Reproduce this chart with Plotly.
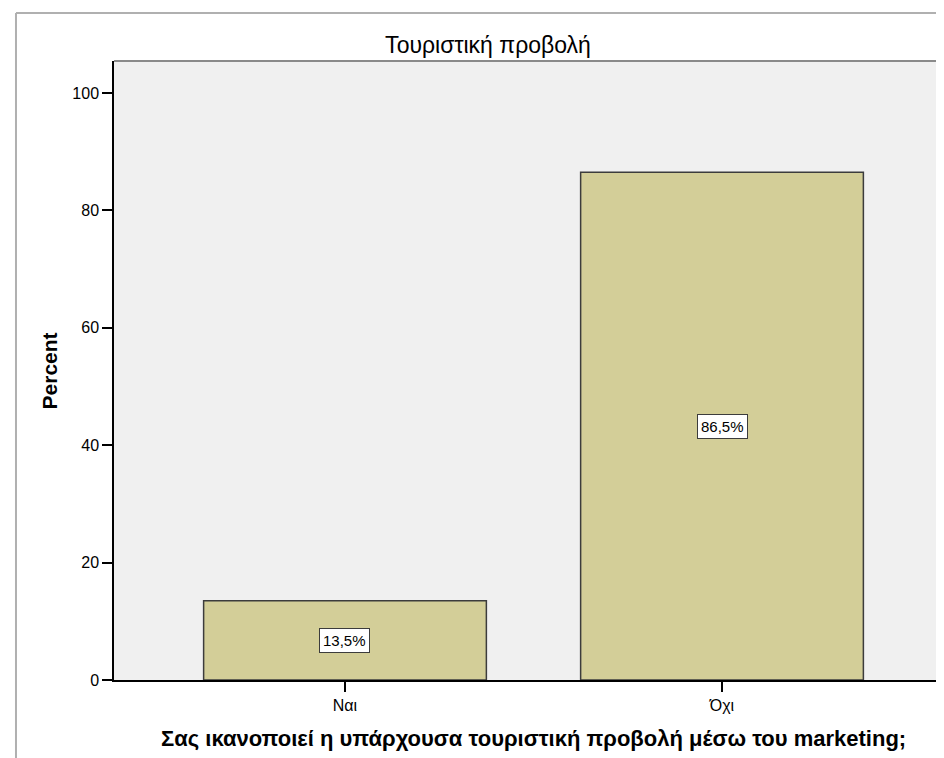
import plotly.graph_objects as go

categories = ["Ναι", "Όχι"]
percents = [13.5, 86.5]
labels = ["13,5%", "86,5%"]
y_ticks = [0, 20, 40, 60, 80, 100]

chart_title = "Τουριστική προβολή"
x_title = "Σας ικανοποιεί η υπάρχουσα τουριστική προβολή μέσω του marketing;"
y_title = "Percent"

font = "Liberation Sans, Arial, sans-serif"

fig = go.Figure()
fig.add_trace(go.Bar(
    x=[0, 1], y=percents, width=0.75,
    marker=dict(color="#d3ce98", line=dict(color="#3c3c3c", width=1.5)),
    hoverinfo="skip",
))

# boxed percent labels, centred inside each bar
for i, (v, t) in enumerate(zip(percents, labels)):
    fig.add_annotation(x=i, y=v / 2, text=t, showarrow=False,
                       font=dict(family=font, size=15, color="black"),
                       bgcolor="white", bordercolor="#3c3c3c", borderwidth=1, borderpad=3)

fig.add_annotation(xref="paper", yref="paper", x=0.5006, y=-0.095, yanchor="middle",
                   text="<b>" + x_title + "</b>", showarrow=False,
                   font=dict(family=font, size=22, color="black"))
fig.add_annotation(xref="paper", yref="paper", x=-0.0765, y=0.5, textangle=-90,
                   xanchor="center", yanchor="middle",
                   text="<b>" + y_title + "</b>", showarrow=False,
                   font=dict(family=font, size=21, color="black"))

# outer frame (left + top) and plot frame (top + right)
fig.add_shape(type="line", xref="paper", yref="paper", x0=-0.1171, x1=-0.1171, y0=1.0775, y1=-0.15,
              line=dict(color="#b0b0b0", width=2))
fig.add_shape(type="line", xref="paper", yref="paper", x0=-0.1171, x1=1.01, y0=1.0775, y1=1.0775,
              line=dict(color="#b0b0b0", width=2))
fig.add_shape(type="line", xref="paper", yref="paper", x0=0, x1=1, y0=1, y1=1,
              line=dict(color="#8a8a8a", width=2))
fig.add_shape(type="line", xref="paper", yref="paper", x0=0.999, x1=0.999, y0=0, y1=1,
              line=dict(color="#a8a8a8", width=1))

fig.update_layout(
    width=944, height=758,
    margin=dict(l=106, r=1, t=53, b=86),
    paper_bgcolor="white", plot_bgcolor="#f0f0f0",
    showlegend=False,
    title=dict(text=chart_title, x=(480 - 106) / 837, xref="paper", xanchor="center",
               y=1 - 37 / 758, yanchor="middle",
               font=dict(family=font, size=23, color="black")),
    font=dict(family=font, size=16, color="black"),
)
fig.update_xaxes(range=[-0.6127, 1.6074], tickvals=[0, 1], ticktext=categories,
                 showline=True, linecolor="black", linewidth=1.5,
                 ticks="outside", ticklen=10, tickcolor="black", tickwidth=1.5,
                 showgrid=False, zeroline=False, fixedrange=True,
                 tickfont=dict(family=font, size=16, color="black"))
fig.update_yaxes(range=[0, 105.45], tickvals=y_ticks,
                 showline=True, linecolor="black", linewidth=1.5,
                 ticks="outside", ticklen=10, tickcolor="black", tickwidth=1.5,
                 showgrid=False, zeroline=False, fixedrange=True,
                 tickfont=dict(family=font, size=16, color="black"))

fig.write_html("out.html")
